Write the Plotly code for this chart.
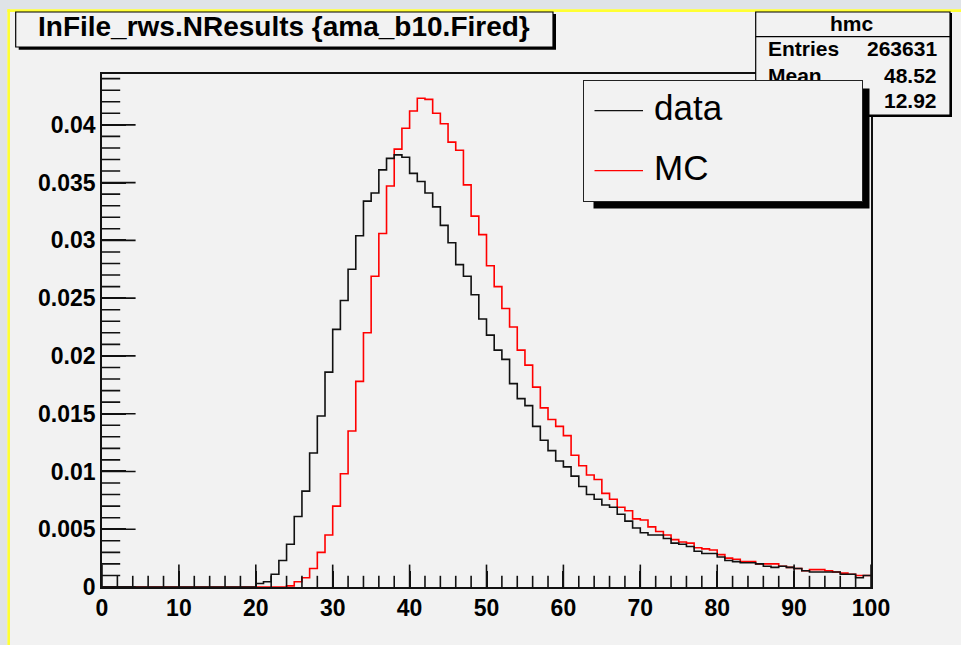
import plotly.graph_objects as go

# ---------------- data ----------------
bin_edges = list(range(0, 101))  # 100 bins of width 1 from 0 to 100

data_values = [0.0] * 20 + [
    0.0003, 0.00046, 0.0011, 0.0023, 0.0037, 0.0061, 0.0083, 0.0116, 0.0148, 0.0186,   # 20-29
    0.0223, 0.0248, 0.0275, 0.0304, 0.0334, 0.0341, 0.0361, 0.0371, 0.0374, 0.0372,    # 30-39
    0.0358, 0.0351, 0.0341, 0.0329, 0.0313, 0.0298, 0.0279, 0.0269, 0.0253, 0.0232,    # 40-49
    0.0218, 0.0205, 0.0197, 0.0176, 0.0163, 0.0157, 0.0139, 0.0127, 0.0118, 0.0109,    # 50-59
    0.0104, 0.0096, 0.0087, 0.0080, 0.0076, 0.0071, 0.0069, 0.0063, 0.0057, 0.0051,    # 60-69
    0.0047, 0.0045, 0.0045, 0.0042, 0.0038, 0.0037, 0.0035, 0.0031, 0.0029, 0.0029,    # 70-79
    0.0026, 0.0023, 0.0022, 0.0021, 0.0021, 0.0020, 0.0018, 0.0017, 0.0018, 0.0017,    # 80-89
    0.0016, 0.0014, 0.0013, 0.0013, 0.0013, 0.0013, 0.0011, 0.0011, 0.0008, 0.0010,    # 90-99
]

mc_values = [0.0] * 24 + [
    0.0001, 0.00046, 0.0008, 0.0016, 0.0030, 0.0045,                                   # 24-29
    0.0070, 0.0098, 0.0135, 0.0178, 0.0220, 0.0269, 0.0306, 0.0347, 0.0379, 0.0397,    # 30-39
    0.0412, 0.0423, 0.0422, 0.0410, 0.0401, 0.0385, 0.0378, 0.0348, 0.0321, 0.0305,    # 40-49
    0.0278, 0.0260, 0.0241, 0.0225, 0.0205, 0.0192, 0.0173, 0.0155, 0.0145, 0.0139,    # 50-59
    0.0131, 0.0114, 0.0105, 0.0097, 0.0093, 0.0081, 0.0076, 0.0069, 0.0066, 0.0059,    # 60-69
    0.0058, 0.0052, 0.0048, 0.0045, 0.0041, 0.0039, 0.0038, 0.0034, 0.0033, 0.0032,    # 70-79
    0.0028, 0.0025, 0.0024, 0.0022, 0.0022, 0.0020, 0.0020, 0.0020, 0.0018, 0.0017,    # 80-89
    0.0016, 0.0014, 0.0015, 0.0015, 0.0014, 0.0013, 0.0012, 0.0011, 0.0010, 0.0010,    # 90-99
]

x_range = [0, 100]
y_range = [0, 0.0444]
x_tick_values = [0, 10, 20, 30, 40, 50, 60, 70, 80, 90, 100]
x_tick_labels = ["0", "10", "20", "30", "40", "50", "60", "70", "80", "90", "100"]
x_minor_values = [v for v in range(0, 101, 2) if v % 10 != 0]
y_tick_values = [0, 0.005, 0.01, 0.015, 0.02, 0.025, 0.03, 0.035, 0.04]
y_tick_labels = ["0", "0.005", "0.01", "0.015", "0.02", "0.025", "0.03", "0.035", "0.04"]
y_minor_values = [round(i * 0.001, 3) for i in range(0, 45) if i % 5 != 0]

title_text = "InFile_rws.NResults {ama_b10.Fired}"
stats_name = "hmc"
stats_rows = [("Entries", "263631"), ("Mean", "48.52"), ("RMS", "12.92")]
series_names = ["data", "MC"]
series_colors = ["#111111", "#ff0000"]

# ---------------- layout helpers (pixel -> paper) ----------------
W_FIG, H_FIG = 961, 645
L, R, T, B = 102, 871, 74, 587
PW, PH = R - L, B - T


def fx(p):
    return (p - L) / PW


def fy(p):
    return (B - p) / PH


FONT = "Liberation Sans, Arial, Helvetica, sans-serif"
CANVAS = "#f2f2f2"
OUTER = "#dfe3e7"
INK = "#111111"


def step_xy(values):
    xs = bin_edges[:]
    ys = list(values) + [values[-1]]
    return xs, ys


fig = go.Figure()

# MC first (drawn below), then data
for name, vals, col in [(series_names[1], mc_values, series_colors[1]),
                        (series_names[0], data_values, series_colors[0])]:
    xs, ys = step_xy(vals)
    fig.add_trace(go.Scatter(x=xs, y=ys, mode="lines", name=name,
                             line=dict(color=col, width=1.6, shape="hv"),
                             showlegend=False, hoverinfo="skip"))

# inside tick marks (ROOT style), placed through the axes' own scales;
# half of each centred marker is clipped away by the plot area.
tick_sets = [
    (x_tick_values, [y_range[0]] * len(x_tick_values), "line-ns-open", 32),
    (x_minor_values, [y_range[0]] * len(x_minor_values), "line-ns-open", 16),
    ([x_range[0]] * len(y_tick_values), y_tick_values, "line-ew-open", 48),
    ([x_range[0]] * len(y_minor_values), y_minor_values, "line-ew-open", 26),
]
for tx, ty, sym, size in tick_sets:
    fig.add_trace(go.Scatter(x=tx, y=ty, mode="markers", cliponaxis=True,
                             marker=dict(symbol=sym, size=size, color=INK,
                                         line=dict(width=1.6, color=INK)),
                             showlegend=False, hoverinfo="skip"))


def rect(x0, y0, x1, y1, fill, lc=None, lw=0):
    return dict(type="rect", xref="paper", yref="paper", layer="above",
                x0=fx(x0), x1=fx(x1), y0=fy(y0), y1=fy(y1), fillcolor=fill,
                line=dict(color=lc or fill, width=lw))


def hline(x0, x1, y, col, w):
    return dict(type="line", xref="paper", yref="paper", layer="above",
                x0=fx(x0), x1=fx(x1), y0=fy(y), y1=fy(y), line=dict(color=col, width=w))


def vline(x, y0, y1, col, w):
    return dict(type="line", xref="paper", yref="paper", layer="above",
                x0=fx(x), x1=fx(x), y0=fy(y0), y1=fy(y1), line=dict(color=col, width=w))


shapes = [
    rect(0, 0, W_FIG, 9.3, OUTER),
    rect(0, 0, 7.4, H_FIG, OUTER),
    hline(7.4, W_FIG, 10.6, "#ffff33", 2.6),
    vline(8.7, 9.3, H_FIG, "#ffff33", 2.6),
    rect(18.7, 14, 556, 49.8, "#000000"),
    rect(15.7, 12, 553, 47, CANVAS, "#000000", 1.2),
    rect(758, 13, 952, 117, "#000000"),
    rect(755.7, 12, 950, 115, CANVAS, "#000000", 1.2),
    hline(755.7, 950, 36.7, "#000000", 1.2),
]

ann = []
ann.append(dict(text=title_text, x=fx(284), y=fy(26), xref="paper", yref="paper",
                xanchor="center", yanchor="middle", showarrow=False,
                font=dict(family=FONT, size=28, color="#000000", weight="bold")))
ann.append(dict(text=stats_name, x=fx(852), y=fy(24), xref="paper", yref="paper",
                xanchor="center", yanchor="middle", showarrow=False,
                font=dict(family=FONT, size=21, color="#000000", weight="bold")))
row_y = [48.5, 75, 100.5]
for (lab, val), yy in zip(stats_rows, row_y):
    ann.append(dict(text=lab, x=fx(766), y=fy(yy), xref="paper", yref="paper",
                    xanchor="left", yanchor="middle", showarrow=False,
                    font=dict(family=FONT, size=21, color="#000000", weight="bold")))
    ann.append(dict(text=val, x=fx(938.5), y=fy(yy), xref="paper", yref="paper",
                    xanchor="right", yanchor="middle", showarrow=False,
                    font=dict(family=FONT, size=21, color="#000000", weight="bold")))
ann.append(dict(text=" ", x=fx(593), y=fy(88), xref="paper", yref="paper",
                xanchor="left", yanchor="top", showarrow=False,
                width=275, height=119, bgcolor="#000000", borderpad=0,
                font=dict(size=4)))
ann.append(dict(text=" ", x=fx(583), y=fy(80), xref="paper", yref="paper",
                xanchor="left", yanchor="top", showarrow=False,
                width=278, height=120, bgcolor=CANVAS, bordercolor="#222222",
                borderwidth=1, borderpad=0, font=dict(size=4)))
leg_y = [110.7, 170.7]
for name, col, yy in zip(series_names, series_colors, leg_y):
    ann.append(dict(text=name, x=fx(652), y=fy(yy - 3), xref="paper", yref="paper",
                    xanchor="left", yanchor="middle", showarrow=False,
                    font=dict(family=FONT, size=35, color="#000000")))
    ann.append(dict(text="", x=fx(643), y=fy(yy), xref="paper", yref="paper",
                    showarrow=True, arrowhead=0, arrowwidth=1.3, arrowcolor=col,
                    ax=-50, ay=0, standoff=0, startstandoff=0))

tickfont = dict(family=FONT, size=23, color="#000000", weight="bold")

fig.update_layout(
    width=W_FIG, height=H_FIG,
    margin=dict(l=L, r=W_FIG - R, t=T, b=H_FIG - B, pad=0),
    paper_bgcolor=CANVAS, plot_bgcolor=CANVAS,
    shapes=shapes, annotations=ann, showlegend=False,
    xaxis=dict(range=x_range, tickmode="array", tickvals=x_tick_values,
               ticktext=x_tick_labels, ticks="inside", ticklen=16, tickwidth=1.6,
               tickcolor=INK, showline=True, linecolor=INK, linewidth=1.6,
               mirror=True, showgrid=False, zeroline=False, tickfont=tickfont),
    yaxis=dict(range=y_range, tickmode="array", tickvals=y_tick_values,
               ticktext=y_tick_labels, ticks="inside", ticklen=24, tickwidth=1.6,
               tickcolor=INK, showline=True, linecolor=INK, linewidth=1.6,
               mirror=True, showgrid=False, zeroline=False, tickfont=tickfont),
)

fig.write_html("out.html")
